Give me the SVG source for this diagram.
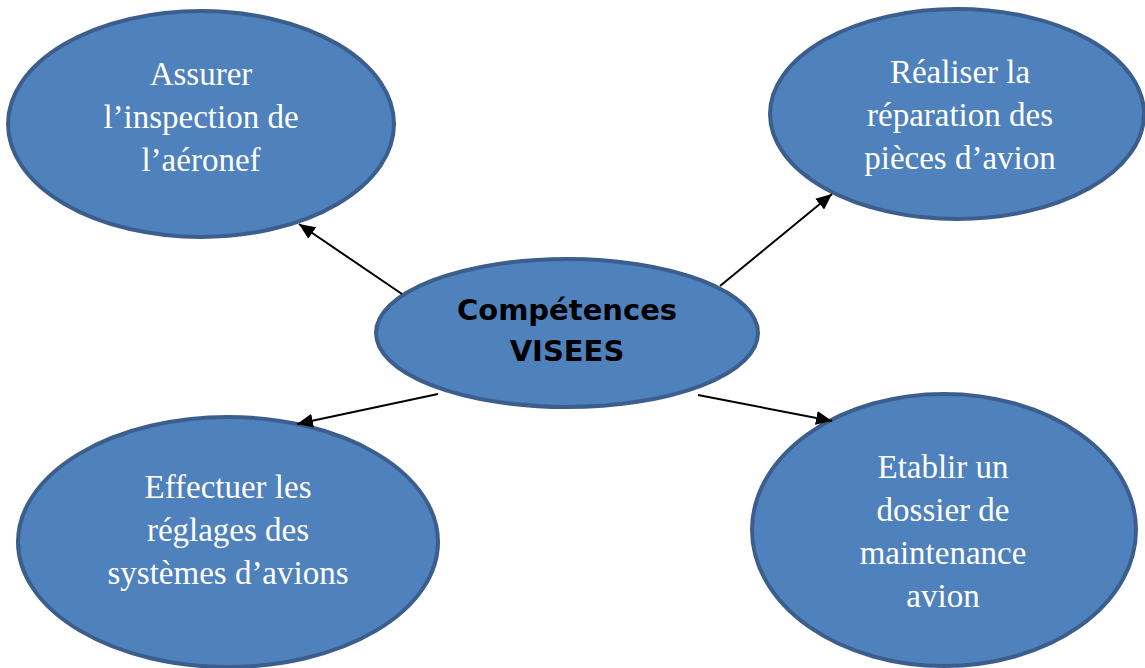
<svg xmlns="http://www.w3.org/2000/svg" width="1145" height="668" viewBox="0 0 1145 668">
<style>
.node ellipse{fill:#4f81bd;stroke:#3b5e8c;stroke-width:4}
.lbl{font-family:"Liberation Serif",serif;font-size:33px;fill:#ffffff;text-anchor:middle}
.ctr{font-family:"DejaVu Sans",Verdana,sans-serif;font-size:29px;font-weight:bold;fill:#000000;text-anchor:middle}
.conn line{stroke:#000;stroke-width:2}
</style>
<defs>
<marker id="ah" markerWidth="16" markerHeight="14" refX="16" refY="7" orient="auto" markerUnits="userSpaceOnUse" viewBox="0 0 16 14">
<path d="M0,0 L16,7 L0,14 z" fill="#000"/>
</marker>
</defs>
<rect width="1145" height="668" fill="#fff"/>
<g id="n-inspection" class="node">
<ellipse cx="201" cy="124" rx="193" ry="113"/>
<text class="lbl" x="201" y="85">Assurer</text>
<text class="lbl" x="201" y="128">l’inspection de</text>
<text class="lbl" x="201" y="171">l’aéronef</text>
</g>
<g id="n-reparation" class="node">
<ellipse cx="957" cy="114" rx="187" ry="105"/>
<text class="lbl" x="960" y="83">Réaliser la</text>
<text class="lbl" x="960" y="126">réparation des</text>
<text class="lbl" x="960" y="169">pièces d’avion</text>
</g>
<g id="n-center" class="node">
<ellipse cx="567" cy="333" rx="191" ry="74"/>
<text class="ctr" x="567" y="320">Compétences</text>
<text class="ctr" x="567" y="361">VISEES</text>
</g>
<g id="n-reglages" class="node">
<ellipse cx="228" cy="542" rx="210" ry="125"/>
<text class="lbl" x="228" y="498">Effectuer les</text>
<text class="lbl" x="228" y="541">réglages des</text>
<text class="lbl" x="228" y="584">systèmes d’avions</text>
</g>
<g id="n-dossier" class="node">
<ellipse cx="944" cy="530" rx="192" ry="136"/>
<text class="lbl" x="943" y="478">Etablir un</text>
<text class="lbl" x="943" y="521">dossier de</text>
<text class="lbl" x="943" y="564">maintenance</text>
<text class="lbl" x="943" y="607">avion</text>
</g>
<g id="connectors" class="conn">
<line x1="402" y1="294" x2="299" y2="224" marker-end="url(#ah)"/>
<line x1="720" y1="286" x2="832" y2="194" marker-end="url(#ah)"/>
<line x1="438" y1="394" x2="297" y2="424" marker-end="url(#ah)"/>
<line x1="698" y1="395" x2="832" y2="421" marker-end="url(#ah)"/>
</g>
</svg>
